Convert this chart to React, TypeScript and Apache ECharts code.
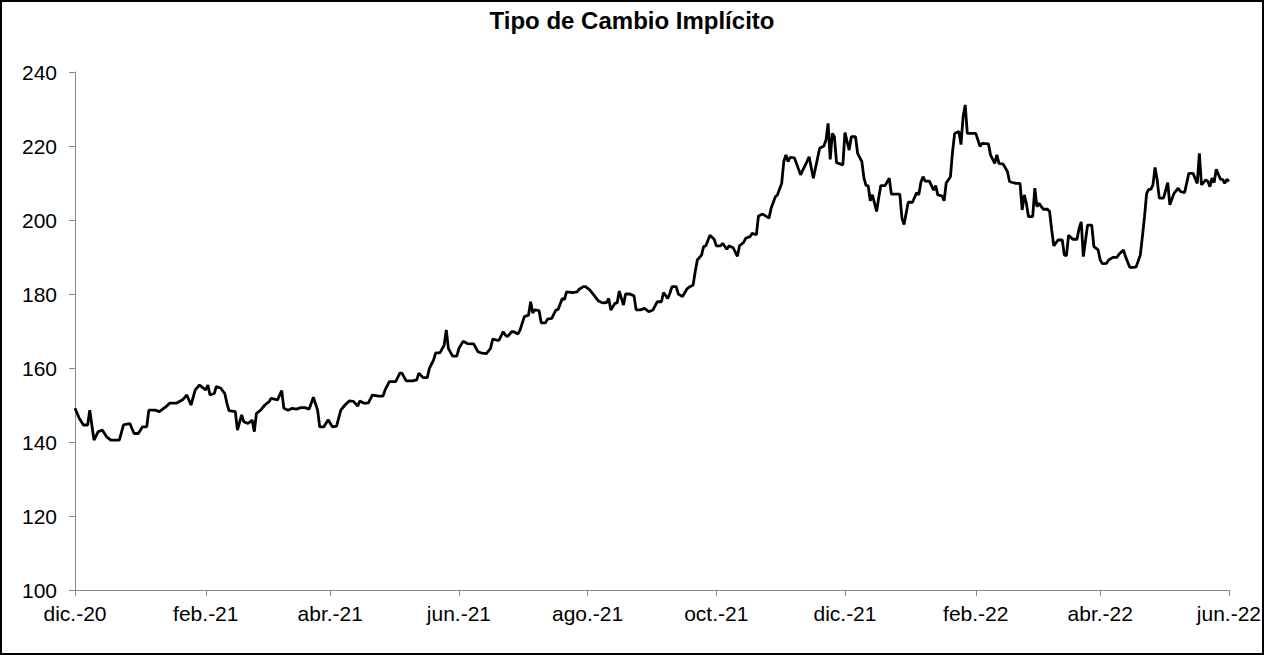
import React, { useEffect, useRef } from "react";
import * as echarts from "echarts";

const titleText = "Tipo de Cambio Implícito";

const dates: string[] = [
  "2020-12-01","2020-12-03","2020-12-05","2020-12-07","2020-12-08","2020-12-10","2020-12-12","2020-12-14","2020-12-16","2020-12-18",
  "2020-12-22","2020-12-24","2020-12-27","2020-12-29","2020-12-31","2021-01-02","2021-01-04","2021-01-05","2021-01-08","2021-01-10",
  "2021-01-13","2021-01-15","2021-01-18","2021-01-21","2021-01-23","2021-01-25","2021-01-27","2021-01-29","2021-02-01","2021-02-02",
  "2021-02-03","2021-02-05","2021-02-06","2021-02-08","2021-02-10","2021-02-11","2021-02-12","2021-02-15","2021-02-16","2021-02-18",
  "2021-02-19","2021-02-21","2021-02-23","2021-02-24","2021-02-25","2021-02-27","2021-03-01","2021-03-03","2021-03-04","2021-03-07",
  "2021-03-09","2021-03-10","2021-03-12","2021-03-14","2021-03-16","2021-03-18","2021-03-20","2021-03-22","2021-03-24","2021-03-26",
  "2021-03-27","2021-03-29","2021-03-31","2021-04-02","2021-04-04","2021-04-06","2021-04-08","2021-04-10","2021-04-12","2021-04-14",
  "2021-04-15","2021-04-17","2021-04-19","2021-04-21","2021-04-24","2021-04-26","2021-04-27","2021-04-29","2021-05-02","2021-05-04",
  "2021-05-05","2021-05-07","2021-05-10","2021-05-12","2021-05-13","2021-05-15","2021-05-17","2021-05-18","2021-05-20","2021-05-21",
  "2021-05-23","2021-05-25","2021-05-26","2021-05-27","2021-05-29","2021-05-31","2021-06-01","2021-06-03","2021-06-05","2021-06-08",
  "2021-06-10","2021-06-12","2021-06-14","2021-06-16","2021-06-17","2021-06-19","2021-06-20","2021-06-22","2021-06-23","2021-06-24",
  "2021-06-26","2021-06-27","2021-06-29","2021-06-30","2021-07-02","2021-07-04","2021-07-05","2021-07-06","2021-07-07","2021-07-09",
  "2021-07-10","2021-07-12","2021-07-13","2021-07-15","2021-07-17","2021-07-18","2021-07-20","2021-07-21","2021-07-22","2021-07-25",
  "2021-07-27","2021-07-28","2021-07-30","2021-07-31","2021-08-02","2021-08-04","2021-08-06","2021-08-08","2021-08-10","2021-08-11",
  "2021-08-12","2021-08-14","2021-08-15","2021-08-16","2021-08-18","2021-08-19","2021-08-21","2021-08-23","2021-08-24","2021-08-26",
  "2021-08-28","2021-08-30","2021-09-01","2021-09-03","2021-09-05","2021-09-06","2021-09-08","2021-09-09","2021-09-10","2021-09-12",
  "2021-09-13","2021-09-15","2021-09-17","2021-09-18","2021-09-20","2021-09-21","2021-09-22","2021-09-24","2021-09-25","2021-09-26",
  "2021-09-28","2021-09-30","2021-10-01","2021-10-03","2021-10-04","2021-10-06","2021-10-07","2021-10-09","2021-10-11","2021-10-12",
  "2021-10-14","2021-10-15","2021-10-17","2021-10-18","2021-10-20","2021-10-21","2021-10-23","2021-10-26","2021-10-27","2021-10-29",
  "2021-10-30","2021-11-01","2021-11-02","2021-11-03","2021-11-04","2021-11-05","2021-11-07","2021-11-08","2021-11-10","2021-11-11",
  "2021-11-13","2021-11-14","2021-11-16","2021-11-17","2021-11-19","2021-11-21","2021-11-22","2021-11-23","2021-11-24","2021-11-25",
  "2021-11-26","2021-11-27","2021-11-28","2021-11-30","2021-12-01","2021-12-03","2021-12-04","2021-12-06","2021-12-07","2021-12-09",
  "2021-12-10","2021-12-11","2021-12-12","2021-12-13","2021-12-14","2021-12-16","2021-12-17","2021-12-18","2021-12-20","2021-12-22",
  "2021-12-23","2021-12-25","2021-12-27","2021-12-28","2021-12-29","2021-12-30","2021-12-31","2022-01-02","2022-01-04","2022-01-05",
  "2022-01-06","2022-01-07","2022-01-08","2022-01-10","2022-01-12","2022-01-13","2022-01-14","2022-01-16","2022-01-17","2022-01-18",
  "2022-01-20","2022-01-21","2022-01-22","2022-01-24","2022-01-25","2022-01-26","2022-01-27","2022-01-28","2022-01-31","2022-02-01",
  "2022-02-03","2022-02-04","2022-02-07","2022-02-08","2022-02-10","2022-02-11","2022-02-12","2022-02-14","2022-02-16","2022-02-17",
  "2022-02-18","2022-02-20","2022-02-22","2022-02-23","2022-02-24","2022-02-25","2022-02-26","2022-02-28","2022-03-01","2022-03-02",
  "2022-03-03","2022-03-05","2022-03-07","2022-03-08","2022-03-09","2022-03-10","2022-03-12","2022-03-14","2022-03-15","2022-03-16",
  "2022-03-17","2022-03-19","2022-03-21","2022-03-22","2022-03-23","2022-03-24","2022-03-26","2022-03-28","2022-03-29","2022-03-31",
  "2022-04-01","2022-04-02","2022-04-04","2022-04-05","2022-04-07","2022-04-09","2022-04-10","2022-04-12","2022-04-13","2022-04-15",
  "2022-04-17","2022-04-18","2022-04-20","2022-04-21","2022-04-22","2022-04-23","2022-04-24","2022-04-25","2022-04-26","2022-04-27",
  "2022-04-28","2022-04-29","2022-05-01","2022-05-03","2022-05-04","2022-05-06","2022-05-08","2022-05-09","2022-05-11","2022-05-13",
  "2022-05-15","2022-05-17","2022-05-18","2022-05-19","2022-05-21","2022-05-22","2022-05-23","2022-05-24","2022-05-25","2022-05-26",
  "2022-05-28","2022-05-29","2022-05-30","2022-05-31","2022-06-01"
];

const values: number[] = [
  149.1,146.4,144.6,144.6,148.6,140.5,142.8,143.2,141.4,140.5,
  140.5,144.6,145.0,142.3,142.3,144.1,144.1,148.6,148.6,148.2,
  149.5,150.5,150.5,151.4,152.7,150.0,154.1,155.4,154.1,155.4,
  152.7,153.1,155.0,154.6,153.1,150.5,148.5,148.2,143.2,147.3,
  145.5,145.0,145.9,142.8,147.7,148.6,150.0,150.9,151.8,151.4,
  153.9,149.1,148.6,149.1,148.9,149.3,149.3,148.9,152.1,148.6,
  144.1,144.1,146.0,144.1,144.3,148.6,150.0,151.1,151.0,149.7,
  151.1,150.5,150.5,152.7,152.4,152.4,154.1,156.3,156.3,158.6,
  158.6,156.5,156.5,156.8,158.6,157.4,157.4,159.9,162.2,164.1,
  164.1,166.2,170.3,165.3,163.2,163.2,165.3,167.2,166.6,166.5,
  164.4,164.0,163.9,165.3,167.8,167.5,167.5,169.8,168.9,168.5,
  169.8,169.8,169.2,170.3,173.9,174.3,177.9,174.9,175.7,175.5,
  172.2,172.2,173.2,173.4,175.7,175.8,178.8,178.5,180.6,180.4,
  180.6,181.3,182.0,182.0,181.1,179.7,178.2,177.6,177.7,178.8,
  175.7,177.5,177.6,180.8,177.0,180.0,180.0,179.5,175.7,175.7,
  176.1,175.2,175.7,177.9,177.9,180.4,178.8,180.2,182.0,182.0,
  180.0,179.3,181.3,181.8,182.4,186.0,189.2,190.5,192.8,193.0,
  195.9,194.8,193.0,193.0,193.7,192.1,193.0,192.5,190.2,193.0,
  194.0,195.1,195.5,196.4,196.0,201.1,201.6,200.5,203.2,206.3,
  206.8,209.9,215.8,217.6,215.8,216.9,216.8,215.3,212.2,213.5,
  215.8,217.1,211.3,214.0,219.4,220.0,221.6,226.1,216.4,223.4,
  222.5,215.5,215.3,214.9,223.6,218.9,222.5,222.5,218.0,215.8,
  211.3,209.3,209.3,205.2,206.8,202.3,206.0,209.3,209.3,211.3,
  207.0,207.0,207.0,200.5,198.8,201.8,204.8,204.8,207.4,206.8,
  210.2,211.7,210.5,210.5,208.1,209.3,206.8,206.5,205.2,210.0,
  211.7,218.5,223.4,223.9,220.4,227.9,231.1,223.4,223.4,223.4,
  219.9,220.7,220.6,217.6,215.3,217.6,215.3,215.1,213.1,210.4,
  210.2,209.9,209.9,202.7,206.8,204.5,200.9,200.9,208.6,203.6,
  204.5,202.9,202.9,202.3,197.3,193.0,194.6,194.6,190.5,190.4,
  195.9,194.8,194.8,197.8,199.5,190.1,198.6,198.6,192.8,191.9,
  189.2,188.2,188.3,189.2,189.9,189.9,190.8,191.9,190.1,187.2,
  187.2,187.3,190.5,195.5,200.9,207.2,208.3,208.3,209.5,214.2,
  210.8,205.9,205.9,210.1,204.1,207.2,208.6,207.7,207.4,212.6,
  212.6,209.9,218.0,209.5,210.8,210.5,209.0,211.3,210.1,213.7,
  211.0,211.0,209.9,211.0,210.4
];

const tickDates: string[] = [
  "2020-12-01","2021-02-01","2021-04-01","2021-06-01","2021-08-01",
  "2021-10-01","2021-12-01","2022-02-01","2022-04-01","2022-06-01"
];
const tickLabels: string[] = [
  "dic.-20","feb.-21","abr.-21","jun.-21","ago.-21",
  "oct.-21","dic.-21","feb.-22","abr.-22","jun.-22"
];

const yMin = 100;
const yMax = 240;
const yStep = 20;

const ts = (s: string) => {
  const [y, m, d] = s.split("-").map(Number);
  return Date.UTC(y, m - 1, d);
};

export default function App() {
  const ref = useRef<HTMLDivElement>(null);
  useEffect(() => {
    if (!ref.current) return;
    const chart = echarts.init(ref.current, undefined, { renderer: "svg" });
    const tickTs = tickDates.map(ts);
    const labelMap: Record<string, string> = {};
    tickTs.forEach((t, i) => (labelMap[String(t)] = tickLabels[i]));
    const font = "'Liberation Sans', Arial, sans-serif";
    const axisGray = "#888888";
    chart.setOption({
      animation: false,
      backgroundColor: "#ffffff",
      title: {
        text: titleText,
        left: "center",
        top: 3,
        textStyle: { fontFamily: font, fontSize: 24, fontWeight: "bold", color: "#000" },
      },
      grid: { left: 75, right: 35, top: 72, bottom: 65, containLabel: false },
      xAxis: {
        type: "value",
        min: tickTs[0],
        max: tickTs[tickTs.length - 1],
        axisLine: { show: true, lineStyle: { color: axisGray, width: 1 } },
        axisTick: { show: true, length: 6, lineStyle: { color: axisGray }, customValues: tickTs },
        axisLabel: {
          customValues: tickTs,
          showMinLabel: true,
          showMaxLabel: true,
          margin: 13,
          color: "#000",
          fontFamily: font,
          fontSize: 21,
          formatter: (v: number) => labelMap[String(v)] ?? "",
        },
        splitLine: { show: false },
      },
      yAxis: {
        type: "value",
        min: yMin,
        max: yMax,
        interval: yStep,
        axisLine: { show: true, lineStyle: { color: axisGray, width: 1 } },
        axisTick: { show: true, length: 6, lineStyle: { color: axisGray } },
        axisLabel: { margin: 18, color: "#000", fontFamily: font, fontSize: 21 },
        splitLine: { show: false },
      },
      series: [
        {
          type: "line",
          data: dates.map((d, i) => [ts(d), values[i]]),
          showSymbol: false,
          symbol: "none",
          lineStyle: { color: "#000", width: 2.8 },
          z: 3,
        },
      ],
      graphic: [
        {
          type: "rect",
          shape: { x: 1, y: 1, width: 1262, height: 653 },
          style: { fill: "none", stroke: "#000", lineWidth: 2 },
          silent: true,
        },
      ],
    });
    return () => chart.dispose();
  }, []);
  return (
    <div
      ref={ref}
      style={{ position: "fixed", left: 0, top: 0, width: 1264, height: 655, background: "#fff" }}
    />
  );
}
